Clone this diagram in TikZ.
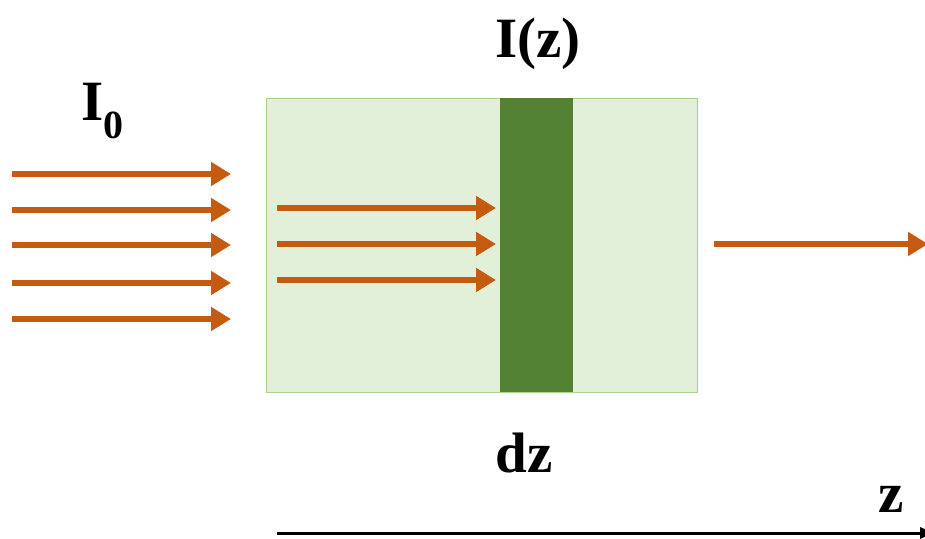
\documentclass[tikz,border=0pt]{standalone}
\usepackage{fontspec}
\setmainfont{Liberation Serif}
\usepackage{xcolor}
\usepackage{tikz}
\usetikzlibrary{arrows.meta, positioning}
\definecolor{slabfill}{HTML}{E2F0D9}
\definecolor{slabedge}{HTML}{A9D18E}
\definecolor{layerdark}{HTML}{548235}
\definecolor{beamorange}{HTML}{C55A11}
\tikzset{
  lbl/.style={font=\fontsize{57}{60}\selectfont\bfseries, text=black, inner sep=0pt, anchor=base},
  beam/.style={-{Triangle[length=20pt, width=23pt]}, line width=5.5pt, color=beamorange},
  axis/.style={-{Triangle[length=14pt, width=11pt]}, line width=3pt, color=black},
}
\begin{document}
\begin{tikzpicture}[x=1pt, y=-1pt]
  \useasboundingbox (0,0) rectangle (925,538);
  % absorbing slab and thin layer dz
  \filldraw[fill=slabfill, draw=slabedge, line width=1pt] (266,98) rectangle (697,392);
  \fill[layerdark] (500,98) rectangle (573,392);
  % incident beam
  \foreach \y in {174,210,245,283,319}
    \draw[beam] (12,\y) -- (231,\y);
  % beam inside the slab
  \foreach \y in {208,244,280}
    \draw[beam] (277,\y) -- (496,\y);
  % transmitted beam
  \draw[beam] (714,244) -- (928,244);
  % z axis
  \draw[axis] (277,533) -- (934,533);
  % labels
  \node[lbl] (Izero) at (103,120) {I\textsubscript{\fontsize{40}{40}\selectfont 0}};
  \node[lbl] (Iz) at (538,57) {I(z)};
  \node[lbl] (dz) at (524,472) {dz};
  \node[lbl] (zlab) at (891,512) {z};
\end{tikzpicture}
\end{document}
